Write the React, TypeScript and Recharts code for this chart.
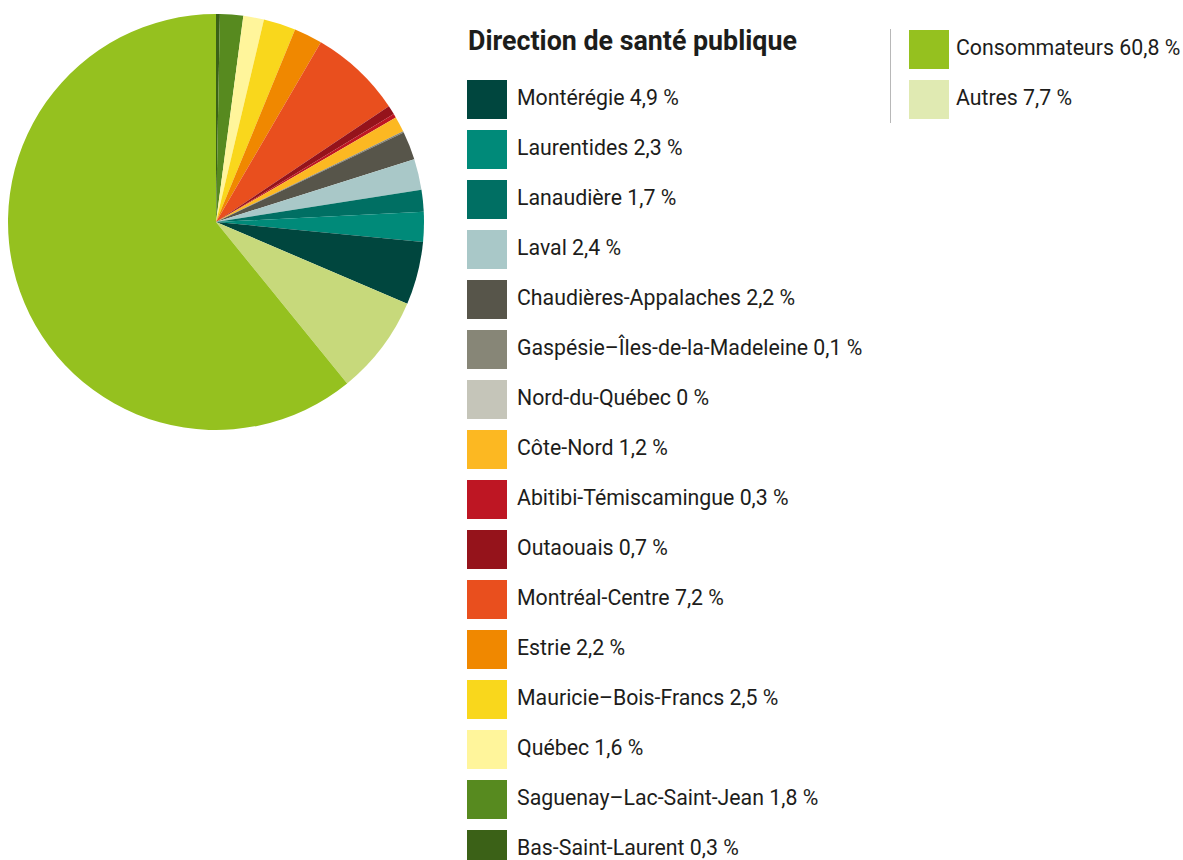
import { PieChart, Pie, Cell, Legend } from 'recharts';

// legend order (top to bottom); the pie draws them in reverse, clockwise from 12 o'clock
const regions = [
  'Montérégie',
  'Laurentides',
  'Lanaudière',
  'Laval',
  'Chaudières-Appalaches',
  'Gaspésie–Îles-de-la-Madeleine',
  'Nord-du-Québec',
  'Côte-Nord',
  'Abitibi-Témiscamingue',
  'Outaouais',
  'Montréal-Centre',
  'Estrie',
  'Mauricie–Bois-Francs',
  'Québec',
  'Saguenay–Lac-Saint-Jean',
  'Bas-Saint-Laurent',
];
const regionValues = [4.9, 2.3, 1.7, 2.4, 2.2, 0.1, 0, 1.2, 0.3, 0.7, 7.2, 2.2, 2.5, 1.6, 1.8, 0.3];
const regionColors = [
  '#00463e', '#008a79', '#006f63', '#a9c8c8', '#57554a', '#878677', '#c5c5b9', '#fcb822',
  '#be1623', '#95131b', '#e94f1e', '#f08800', '#f9d71c', '#fff59b', '#578a1f', '#3b6117',
];

const others = ['Consommateurs', 'Autres'];
const otherValues = [60.8, 7.7];
const otherColors = ['#95c11f', '#c7d97b'];
const otherSwatches = ['#95c11f', '#e0eab2'];

const title = 'Direction de santé publique';

const pieData = [
  ...regions.map((name, i) => ({ name, value: regionValues[i], color: regionColors[i] })).reverse(),
  { name: others[1], value: otherValues[1], color: otherColors[1] },
  { name: others[0], value: otherValues[0], color: otherColors[0] },
];

const fmt = (v: number) => `${String(v).replace('.', ',')} %`;

const font = 'Roboto, "Noto Sans", sans-serif';

function LegendRow({ color, label, left, top, gap }: { color: string; label: string; left: number; top: number; gap: number }) {
  return (
    <div style={{ position: 'absolute', left, top, display: 'flex', alignItems: 'center', height: 39, whiteSpace: 'nowrap' }}>
      <div style={{ width: 40, height: 39, background: color }} />
      <span style={{ marginLeft: gap, position: 'relative', top: -2, fontSize: 21.3, color: '#1d1d1b', fontFamily: font }}>{label}</span>
    </div>
  );
}

function ChartLegend() {
  return (
    <div style={{ position: 'relative', width: 1183, height: 860 }}>
      <div
        style={{
          position: 'absolute',
          left: 468,
          top: 25,
          fontSize: 26.8,
          fontWeight: 700,
          color: '#1d1d1b',
          fontFamily: font,
          whiteSpace: 'nowrap',
        }}
      >
        {title}
      </div>
      {regions.map((name, i) => (
        <LegendRow key={name} color={regionColors[i]} label={`${name} ${fmt(regionValues[i])}`} left={467} top={80 + i * 50} gap={10} />
      ))}
      <div style={{ position: 'absolute', left: 890, top: 29, width: 1, height: 94, background: '#b8b8b8' }} />
      {others.map((name, i) => (
        <LegendRow key={name} color={otherSwatches[i]} label={`${name} ${fmt(otherValues[i])}`} left={909} top={30 + i * 50} gap={7} />
      ))}
    </div>
  );
}

export default function App() {
  return (
    <div style={{ position: 'absolute', left: 0, top: 0, width: 1183, height: 860, background: '#fff' }}>
      <PieChart width={1183} height={860} margin={{ top: 0, right: 0, bottom: 0, left: 0 }}>
        <Pie
          data={pieData}
          dataKey="value"
          nameKey="name"
          cx={216}
          cy={222}
          outerRadius={208}
          startAngle={90}
          endAngle={-270}
          stroke="none"
          isAnimationActive={false}
        >
          {pieData.map((d) => (
            <Cell key={d.name} fill={d.color} />
          ))}
        </Pie>
        <Legend content={() => <ChartLegend />} wrapperStyle={{ left: 0, top: 0, width: 1183, height: 860 }} />
      </PieChart>
    </div>
  );
}
